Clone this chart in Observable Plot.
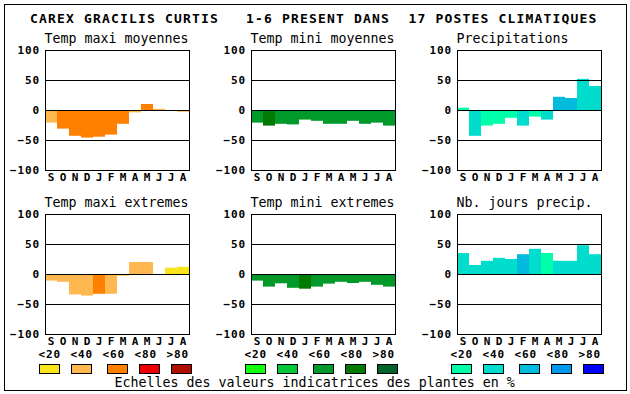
<!DOCTYPE html>
<html><head><meta charset="utf-8">
<script src="https://cdn.jsdelivr.net/npm/d3@7"></script>
<script src="https://cdn.jsdelivr.net/npm/@observablehq/plot@0.6"></script>
<style>
body{margin:0;background:#fff}
#chart{position:relative;width:630px;height:394px;overflow:hidden;background:#fff}
#chart svg{position:absolute}
</style></head><body><div id="chart"></div>
<script>
const months = ["S","O","N","D","J","F","M","A","M","J","J","A"];
const yTicks = [-100,-50,0,50,100];
const classLabels = ["<20","<40","<60","<80",">80"];
const orangeScale = ["#fae51a","#ffb850","#ff8000","#ee0000","#ae1000"];
const greenScale = ["#10ff10","#00c838","#009a2a","#007a00","#00632a"];
const blueScale = ["#00ffaa","#00ddcc","#00bbdd","#0099ee","#0000ff"];

const tmaxMoyValues = [-21,-31,-43,-46,-44.5,-41,-23,-4,10,2,0,-3];
const tmaxMoyClass  = [1,2,2,2,2,2,2,1,2,1,1,1];
const tminMoyValues = [-21,-26,-23,-24,-16,-18,-23,-23,-18,-23,-21,-26];
const tminMoyClass  = [2,3,2,2,2,2,2,2,2,2,2,2];
const precipValues  = [4,-43,-26,-23,-13,-26,-11,-16,22,20,52,40];
const precipClass   = [0,1,0,0,0,1,0,1,2,2,1,1];
const tmaxExtValues = [-11,-13,-34,-36,-33,-33,-3,20,20,0,10.5,12];
const tmaxExtClass  = [1,1,1,1,2,1,1,1,1,1,0,0];
const tminExtValues = [-11,-21,-15.5,-23,-24.5,-21,-16,-13,-15,-13,-18,-21];
const tminExtClass  = [2,2,2,2,3,2,2,2,2,2,2,2];
const joursValues   = [35,15,22,27,25,33,42,35,22,22,48,33];
const joursClass    = [1,1,1,1,1,2,1,0,1,1,1,1];

const panels = [
  {title:"Temp maxi moyennes", values:tmaxMoyValues, cls:tmaxMoyClass, scale:orangeScale, col:0, row:0},
  {title:"Temp mini moyennes", values:tminMoyValues, cls:tminMoyClass, scale:greenScale, col:1, row:0},
  {title:"Precipitations", values:precipValues, cls:precipClass, scale:blueScale, col:2, row:0},
  {title:"Temp maxi extremes", values:tmaxExtValues, cls:tmaxExtClass, scale:orangeScale, col:0, row:1},
  {title:"Temp mini extremes", values:tminExtValues, cls:tminExtClass, scale:greenScale, col:1, row:1},
  {title:"Nb. jours precip.", values:joursValues, cls:joursClass, scale:blueScale, col:2, row:1}
];
const legendScales = [orangeScale, greenScale, blueScale];

const colLeft = [45, 251, 457];
const rowTop = [50, 214];
const PW = 144, PH = 120, ML = 45, MT = 10, MB = 22, MR = 17;
const chart = document.getElementById("chart");
const tickFont = {fontFamily:"DejaVu Sans Mono", fontSize:"11px", fontWeight:"bold", letterSpacing:"0.9px"};

for (const p of panels) {
  const data = p.values.map((v,i) => ({i, v, c: p.scale[p.cls[i]]}));
  const svg = Plot.plot({
    width: ML + PW + MR, height: MT + PH + MB,
    marginLeft: ML, marginRight: MR, marginTop: MT, marginBottom: MB,
    style: {...tickFont, background:"transparent", color:"#000", overflow:"visible"},
    x: {type:"band", domain: d3.range(12), padding:0, tickSize:0, tickPadding:3, tickFormat: i => months[i], label:null},
    y: {domain:[-100,100], ticks: yTicks, tickSize:0, tickPadding:5.5, label:null},
    color: {type:"identity"},
    marks: [
      Plot.barY(data.filter(d => d.v !== 0), {x:"i", y:"v", fill:"c", inset:0}),
      Plot.ruleY([-50,0,50], {stroke:"#000"}),
      Plot.frame({stroke:"#000"})
    ]
  });
  svg.style.left = (colLeft[p.col] - ML) + "px";
  svg.style.top = (rowTop[p.row] - MT) + "px";
  chart.appendChild(svg);
}

// overlay: border, titles, legend
const ov = d3.select(chart).append("svg").attr("width",630).attr("height",394)
  .style("left","0px").style("top","0px");
ov.append("rect").attr("x",4.5).attr("y",4.5).attr("width",622).attr("height",386)
  .attr("fill","none").attr("stroke","#000");
const titleParts = [["CAREX GRACILIS CURTIS",30],["1-6 PRESENT DANS",246],["17 POSTES CLIMATIQUES",408.5]];
for (const [t,x] of titleParts) {
  ov.append("text").attr("x",x).attr("y",22.7).text(t)
    .attr("font-family","DejaVu Sans Mono").attr("font-size",13).attr("font-weight","bold")
    .attr("letter-spacing","1.17px");
}
for (const p of panels) {
  ov.append("text").attr("x",colLeft[p.col]-0.5).attr("y",rowTop[p.row]-7).text(p.title)
    .attr("font-family","DejaVu Sans Mono").attr("font-size",13.3);
}
const swOff = [0,32,68,100,132];
legendScales.forEach((sc,k) => {
  const L = colLeft[k];
  classLabels.forEach((lab,j) => {
    ov.append("text").attr("x",L+4.8+32*j).attr("y",357.7).attr("text-anchor","middle").text(lab)
      .attr("font-family","DejaVu Sans Mono").attr("font-size",11).attr("font-weight","bold")
      .attr("letter-spacing","0.9px");
    ov.append("rect").attr("x",L-5.5+swOff[j]).attr("y",364.5).attr("width",20).attr("height",9)
      .attr("fill",sc[j]).attr("stroke","#000");
  });
});
ov.append("text").attr("x",114.5).attr("y",386.7).text("Echelles des valeurs indicatrices des plantes en %")
  .attr("font-family","DejaVu Sans Mono").attr("font-size",13.3);
</script></body></html>
